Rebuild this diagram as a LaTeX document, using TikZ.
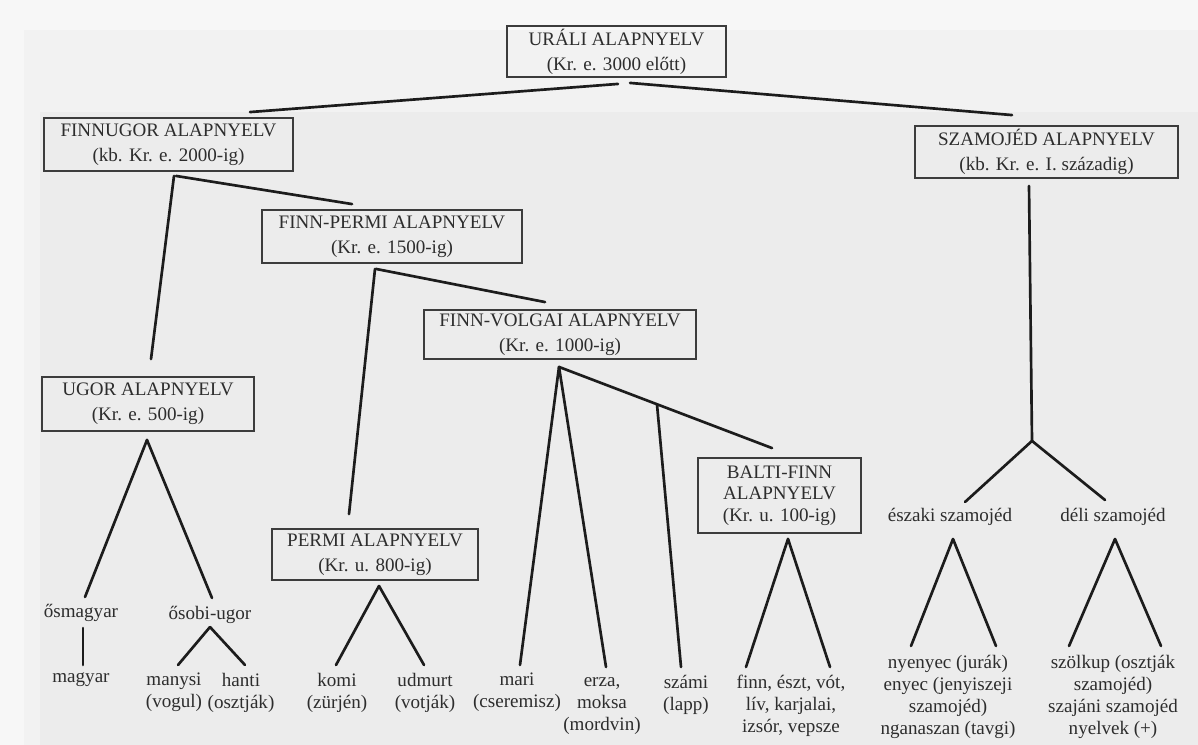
\documentclass[tikz,border=0pt]{standalone}
\usepackage{fontspec}
\setmainfont{Liberation Serif}
\usetikzlibrary{calc}
\definecolor{paper}{RGB}{236,236,236}
\definecolor{paperlight}{RGB}{247,247,247}
\definecolor{papermid}{RGB}{242,242,242}
\definecolor{ink}{RGB}{45,45,45}
\definecolor{linecol}{RGB}{28,28,28}
\definecolor{boxcol}{RGB}{60,60,60}
\tikzset{
  box/.style={draw=boxcol, line width=1.4pt, text=ink, align=center, inner sep=0pt,
    font=\fontsize{14.3}{18.75}\selectfont},
  leaf/.style={text=ink, align=center, inner sep=0pt,
    font=\fontsize{14.3}{16.5}\selectfont},
  link/.style={draw=linecol, line width=2pt, line cap=round},
}
\begin{document}
\begin{tikzpicture}[x=0.75pt, y=-0.75pt]
\useasboundingbox (0,0) rectangle (1198,745);
\fill[paper] (0,0) rectangle (1198,745);
\fill[papermid] (0,28) rectangle (1198,112);
\fill[papermid] (0,112) rectangle (40,745);
\fill[paperlight] (0,0) rectangle (1198,30);
\fill[paperlight] (0,30) rectangle (24,745);

% boxes
\node[box, minimum width={219*0.75pt}, minimum height={51*0.75pt}] (ural) at (616.5,51.5) {URÁLI ALAPNYELV\\(Kr. e. 3000 előtt)};
\node[box, minimum width={249*0.75pt}, minimum height={53*0.75pt}] (finnugor) at (168.5,144.5) {FINNUGOR ALAPNYELV\\(kb. Kr. e. 2000-ig)};
\node[box, minimum width={263*0.75pt}, minimum height={52*0.75pt}] (szamojed) at (1046.5,152) {SZAMOJÉD ALAPNYELV\\(kb. Kr. e. I. századig)};
\node[box, minimum width={260*0.75pt}, minimum height={53*0.75pt}] (finnpermi) at (392,236.5) {FINN-PERMI ALAPNYELV\\(Kr. e. 1500-ig)};
\node[box, minimum width={272*0.75pt}, minimum height={49*0.75pt}] (finnvolgai) at (560,334.5) {FINN-VOLGAI ALAPNYELV\\(Kr. e. 1000-ig)};
\node[box, minimum width={212*0.75pt}, minimum height={54*0.75pt}] (ugor) at (148,404) {UGOR ALAPNYELV\\(Kr. e. 500-ig)};
\node[box, minimum width={206*0.75pt}, minimum height={51*0.75pt}] (permi) at (375,554.5) {PERMI ALAPNYELV\\(Kr. u. 800-ig)};
\node[box, minimum width={163*0.75pt}, minimum height={75*0.75pt}, font=\fontsize{14.3}{16.3}\selectfont] (balti) at (779.5,495.5) {BALTI-FINN\\ALAPNYELV\\(Kr. u. 100-ig)};

% leaves
\node[leaf] (osm) at (81,613) {ősmagyar};
\node[leaf] (osobi) at (210,615) {ősobi-ugor};
\node[leaf] (magyar) at (81,680) {magyar};
\node[leaf] (manysi) at (174,692.5) {manysi\\(vogul)};
\node[leaf] (hanti) at (241,692.5) {hanti\\(osztják)};
\node[leaf] (komi) at (337,692.5) {komi\\(zürjén)};
\node[leaf] (udmurt) at (425,692.5) {udmurt\\(votják)};
\node[leaf] (mari) at (517,692.5) {mari\\(cseremisz)};
\node[leaf] (erza) at (602,706) {erza,\\moksa\\(mordvin)};
\node[leaf] (szami) at (686,695) {számi\\(lapp)};
\node[leaf] (finn) at (791,706) {finn, észt, vót,\\lív, karjalai,\\izsór, vepsze};
\node[leaf] (eszaki) at (950,517) {északi szamojéd};
\node[leaf] (deli) at (1113,517) {déli szamojéd};
\node[leaf] (nyenyec) at (948,696.5) {nyenyec (jurák)\\enyec (jenyiszeji\\szamojéd)\\nganaszan (tavgi)};
\node[leaf] (szolkup) at (1113,696.5) {szölkup (osztják\\szamojéd)\\szajáni szamojéd\\nyelvek (+)};

% branching points
\coordinate (fvapex) at ($(finnvolgai.south)+(-1,7)$);
\coordinate (baltitop) at ($(balti.north)+(-7.5,-9)$);
\coordinate (szbr) at ($(fvapex)!0.46!(baltitop)$);
\coordinate (ugorapex) at ($(ugor.south)+(-1,8)$);
\coordinate (osobiapex) at ($(osobi.center)+(0,12)$);
\coordinate (permiapex) at ($(permi.south)+(4,5)$);
\coordinate (baltiapex) at ($(balti.south)+(8.5,5)$);
\coordinate (fork) at ($(szamojed.south)+(-14.5,262)$);
\coordinate (eszakiapex) at ($(eszaki.center)+(3,22)$);
\coordinate (deliapex) at ($(deli.center)+(2,22)$);

% connectors
\draw[link] ($(ural.south)+(1.5,6)$) -- ($(finnugor.north)+(81.5,-5)$);
\draw[link] ($(ural.south)+(13.5,5)$) -- ($(szamojed.north)+(-34.5,-10)$);
\draw[link] ($(finnugor.south)+(7.5,4)$) -- ($(finnpermi.north)+(-40,-5)$);
\draw[link] ($(finnugor.south)+(5.5,4)$) -- ($(ugor.north)+(3,-17)$);
\draw[link] ($(finnpermi.south)+(-16,5)$) -- ($(finnvolgai.north)+(-15,-7)$);
\draw[link] ($(finnpermi.south)+(-17,5)$) -- ($(permi.north)+(-26,-14)$);

\draw[link] (fvapex) -- ($(mari.center)+(3,-27.5)$);
\draw[link] (fvapex) -- ($(erza.center)+(4,-39)$);
\draw[link] (fvapex) -- (baltitop);
\draw[link] (szbr) -- ($(szami.center)+(-5,-28)$);

\draw[link] (ugorapex) -- ($(osm.center)+(4,-16)$);
\draw[link] (ugorapex) -- ($(osobi.center)+(2,-17)$);
\draw[link] ($(osm.center)+(2,15)$) -- ($(magyar.center)+(2,-15)$);
\draw[link] (osobiapex) -- ($(manysi.center)+(4,-27.5)$);
\draw[link] (osobiapex) -- ($(hanti.center)+(4,-27.5)$);

\draw[link] (permiapex) -- ($(komi.center)+(-1,-27.5)$);
\draw[link] (permiapex) -- ($(udmurt.center)+(-1,-27.5)$);

\draw[link] (baltiapex) -- ($(finn.center)+(-45,-39)$);
\draw[link] (baltiapex) -- ($(finn.center)+(39,-39)$);

\draw[link] ($(szamojed.south)+(-17.5,7)$) -- (fork);
\draw[link] (fork) -- ($(eszaki.center)+(15,-15)$);
\draw[link] (fork) -- ($(deli.center)+(-8,-17)$);
\draw[link] (eszakiapex) -- ($(nyenyec.center)+(-37,-50.5)$);
\draw[link] (eszakiapex) -- ($(nyenyec.center)+(48,-50.5)$);
\draw[link] (deliapex) -- ($(szolkup.center)+(-44,-50.5)$);
\draw[link] (deliapex) -- ($(szolkup.center)+(48,-50.5)$);
\end{tikzpicture}
\end{document}
